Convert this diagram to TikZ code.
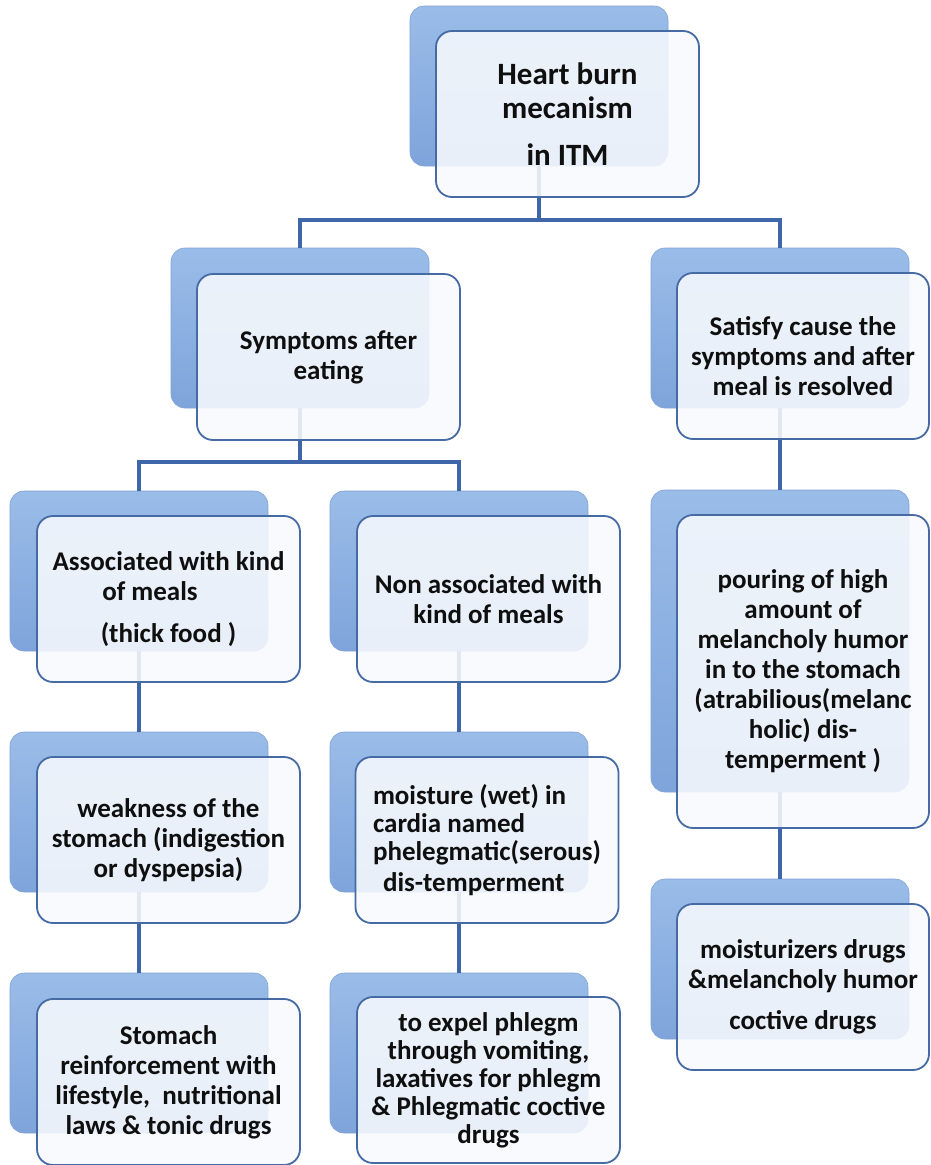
\documentclass[tikz,border=0pt]{standalone}
\usepackage{fontspec}
\setmainfont{Carlito}
\definecolor{backtop}{RGB}{154,188,232}
\definecolor{backbot}{RGB}{126,164,219}
\definecolor{backline}{RGB}{128,162,214}
\definecolor{frontfill}{RGB}{248,250,253}
\definecolor{frontline}{RGB}{70,106,163}
\definecolor{connc}{RGB}{62,102,168}
\definecolor{textc}{RGB}{15,15,15}
\begin{document}
\begin{tikzpicture}[x=1pt,y=-1pt,
  backbox/.style={rectangle, rounded corners=14pt, minimum width=258pt, minimum height=160pt,
    inner sep=0pt, outer sep=0pt, top color=backtop, bottom color=backbot, draw=backline, line width=0.6pt},
  frontbox/.style={rectangle, rounded corners=16pt, minimum width=263pt, minimum height=166pt,
    inner sep=0pt, outer sep=0pt, draw=frontline, line width=1.8pt, fill=frontfill,
    fill opacity=0.88, text opacity=1, text=textc, align=center,
    font=\bfseries\fontsize{27}{30}\selectfont},
  conn/.style={draw=connc, line width=3.4pt}]
\fill[white] (0,0) rectangle (930,1165);
\useasboundingbox (0,0) rectangle (930,1165);
\clip (0,0) rectangle (930,1165);
% back boxes
\node[backbox] (rootB)  at (539,86) {};
\node[backbox] (symB)   at (300,328) {};
\node[backbox] (satB)   at (780,328) {};
\node[backbox] (assocB) at (139,571) {};
\node[backbox] (nonB)   at (459,571) {};
\node[backbox, minimum height=302pt] (pourB) at (780,641) {};
\node[backbox] (weakB)  at (139,812) {};
\node[backbox] (moistB) at (459,812) {};
\node[backbox] (stomB)  at (139,1053) {};
\node[backbox] (expelB) at (459,1053) {};
\node[backbox] (moisdB) at (780,959) {};
% connectors
\draw[conn] (rootB.south) -- (rootB.south |- 0,220) -| (symB.north);
\draw[conn] (rootB.south |- 0,220) -| (satB.north);
\draw[conn] (symB.south) -- (symB.south |- 0,462) -| (assocB.north);
\draw[conn] (symB.south |- 0,462) -| (nonB.north);
\draw[conn] (satB.south) -- (pourB.north);
\draw[conn] (assocB.south) -- (weakB.north);
\draw[conn] (nonB.south) -- (moistB.north);
\draw[conn] (weakB.south) -- (stomB.north);
\draw[conn] (moistB.south) -- (expelB.north);
\draw[conn] (pourB.south) -- (moisdB.north);
% front boxes
\node[frontbox, font=\bfseries\fontsize{31}{34}\selectfont] (root) at (567.5,114) {Heart burn\\mecanism\\[13pt] in ITM};
\node[frontbox] (sym) at (328.5,357) {Symptoms after\\eating};
\node[frontbox, minimum width=252pt] (sat) at (803,356) {Satisfy cause the\\symptoms and after\\meal is resolved};
\node[frontbox] (assoc) at (168.5,599) {Associated with kind\\\hspace*{-37pt}of meals\\[12pt](thick food )};
\node[frontbox] (non) at (488.5,599) {Non associated with\\kind of meals};
\node[frontbox, minimum width=252pt, minimum height=313pt] (pour) at (803,671.5) {pouring of high\\amount of\\melancholy humor\\in to the stomach\\(atrabilious(melanc\\holic) dis-\\temperment )};
\node[frontbox] (weak) at (168.5,840) {weakness of the\\stomach (indigestion\\or dyspepsia)};
\node[frontbox, align=left, font=\bfseries\fontsize{27}{28}\selectfont] (moist) at (487,840) {moisture (wet) in\\cardia named\\phelegmatic(serous)\\[3pt]\hspace*{10pt}dis-temperment};
\node[frontbox] (stom) at (168.5,1082) {Stomach\\reinforcement with\\lifestyle,\ \ nutritional\\laws \& tonic drugs};
\node[frontbox, font=\bfseries\fontsize{27}{28}\selectfont] (expel) at (488.5,1080) {to expel phlegm\\through vomiting,\\laxatives for phlegm\\\& Phlegmatic coctive\\drugs};
\node[frontbox, minimum width=252pt] (moisd) at (803,987) {moisturizers drugs\\\&melancholy humor\\[11pt]coctive drugs};
\end{tikzpicture}
\end{document}
